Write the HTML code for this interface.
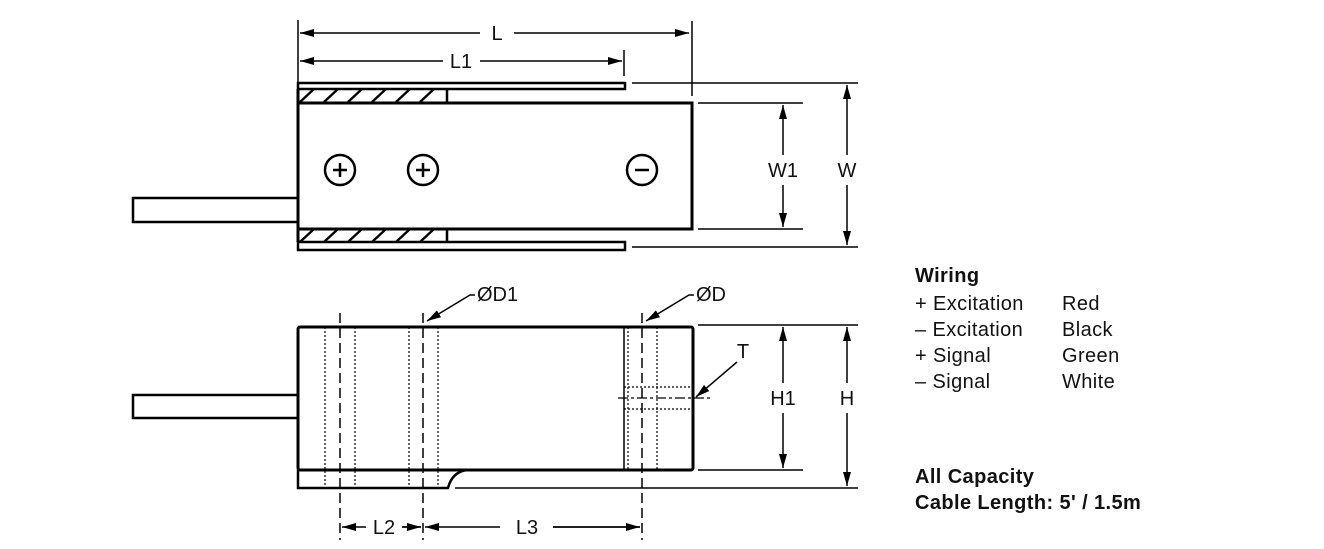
<!DOCTYPE html>
<html><head><meta charset="utf-8"><style>
html,body{margin:0;padding:0;background:#fff;width:1324px;height:549px;overflow:hidden}
svg{display:block}
text{font-family:"Liberation Sans",Arial,sans-serif;fill:#111}
</style></head><body>
<svg width="1324" height="549" viewBox="0 0 1324 549" xmlns="http://www.w3.org/2000/svg">
<defs>
<marker id="a" viewBox="0 0 14 8" refX="14" refY="4" markerWidth="14" markerHeight="8" markerUnits="userSpaceOnUse" orient="auto-start-reverse"><path d="M0,0L14,4L0,8z" fill="#000"/></marker>
</defs>
<g stroke="#000" fill="none">
<rect x="133" y="198" width="165" height="24" stroke-width="2.5"/>
<rect x="298" y="103" width="394" height="126" fill="#fff" stroke-width="3"/>
<rect x="298" y="83" width="327" height="6" stroke-width="2.5"/>
<rect x="298" y="242" width="327" height="8" stroke-width="2.5"/>
<path d="M447,89V103M447,229V242" stroke-width="2.5"/>
<path d="M298,89V103M298,229V242" stroke-width="3"/>
<g stroke-width="2.4">
<path d="M300,102L314,89M324,102L338,89M348,102L362,89M372,102L386,89M396,102L410,89M420,102L434,89"/>
<path d="M300,242L314,229M324,242L338,229M348,242L362,229M372,242L386,229M396,242L410,229M420,242L434,229"/>
</g>
<g stroke-width="2.5">
<circle cx="340" cy="170" r="15"/><path d="M333,170h14M340,163v14"/>
<circle cx="423" cy="170" r="15"/><path d="M416,170h14M423,163v14"/>
<circle cx="642" cy="170" r="15"/><path d="M635,170h14"/>
</g>
<g stroke-width="1.5">
<path d="M298,20V83M692,21V96M624,50V76"/>
<path d="M300,33H480M514,33H689" marker-end="url(#a)" marker-start="url(#a)"/>
<path d="M300,61H443M480,61H622" marker-end="url(#a)" marker-start="url(#a)"/>
<path d="M632,83H858M698,103H803M698,229H803M632,247H858"/>
<path d="M783,105V155M783,185V227" marker-start="url(#a)" marker-end="url(#a)"/>
<path d="M847,85V155M847,185V245" marker-start="url(#a)" marker-end="url(#a)"/>
</g>
<rect x="133" y="395" width="165" height="23" stroke-width="2.5"/>
<rect x="298" y="327" width="395" height="143" rx="2" fill="#fff" stroke-width="3"/>
<path d="M298,470V488H448Q452,472 467,470" stroke-width="2.5"/>
<path d="M455,488H858" stroke-width="1.5"/>
<path d="M624,327V470" stroke-width="1.5"/>
<g stroke-width="1.2" stroke-dasharray="2,2">
<path d="M325,327V488M355,327V488M409,327V488M438,327V488M628,327V470M657,327V470"/>
<path d="M624,387H693M624,409H693"/>
</g>
<g stroke-width="1.5" stroke-dasharray="10,5">
<path d="M340,313V540M423,313V540M642,313V540"/>
</g>
<path d="M618,398H710" stroke-width="1.3" stroke-dasharray="10,3,3,3"/>
<g stroke-width="1.5">
<path d="M475,295H470L427,321" marker-end="url(#a)"/>
<path d="M694,295H689L646,321" marker-end="url(#a)"/>
<path d="M737,362L696,397" marker-end="url(#a)"/>
<path d="M698,325H858M698,470H803"/>
<path d="M783,327V383M783,413V468" marker-start="url(#a)" marker-end="url(#a)"/>
<path d="M847,327V383M847,413V486" marker-start="url(#a)" marker-end="url(#a)"/>
<path d="M342,527H366M402,527H421" marker-start="url(#a)"/>
<path d="M402,527H421" marker-end="url(#a)"/>
<path d="M425,527H500M553,527H640" marker-start="url(#a)"/>
<path d="M553,527H640" marker-end="url(#a)"/>
</g>
</g>
<g font-size="20" text-anchor="middle">
<text x="497" y="40">L</text>
<text x="461" y="68">L1</text>
<text x="783" y="177">W1</text>
<text x="847" y="177">W</text>
<text x="783" y="405">H1</text>
<text x="847" y="405">H</text>
<text x="743" y="358">T</text>
<text x="384" y="534">L2</text>
<text x="527" y="534">L3</text>
</g>
<g font-size="20">
<text x="477" y="301">ØD1</text>
<text x="696" y="301">ØD</text>
</g>
<g font-size="20" letter-spacing="0.4">
<text x="915" y="282" font-weight="bold">Wiring</text>
<text x="915" y="310">+ Excitation</text><text x="1062" y="310">Red</text>
<text x="915" y="336">– Excitation</text><text x="1062" y="336">Black</text>
<text x="915" y="362">+ Signal</text><text x="1062" y="362">Green</text>
<text x="915" y="388">– Signal</text><text x="1062" y="388">White</text>
<text x="915" y="483" font-weight="bold">All Capacity</text>
<text x="915" y="509" font-weight="bold">Cable Length: 5' / 1.5m</text>
</g>
</svg>
</body></html>
